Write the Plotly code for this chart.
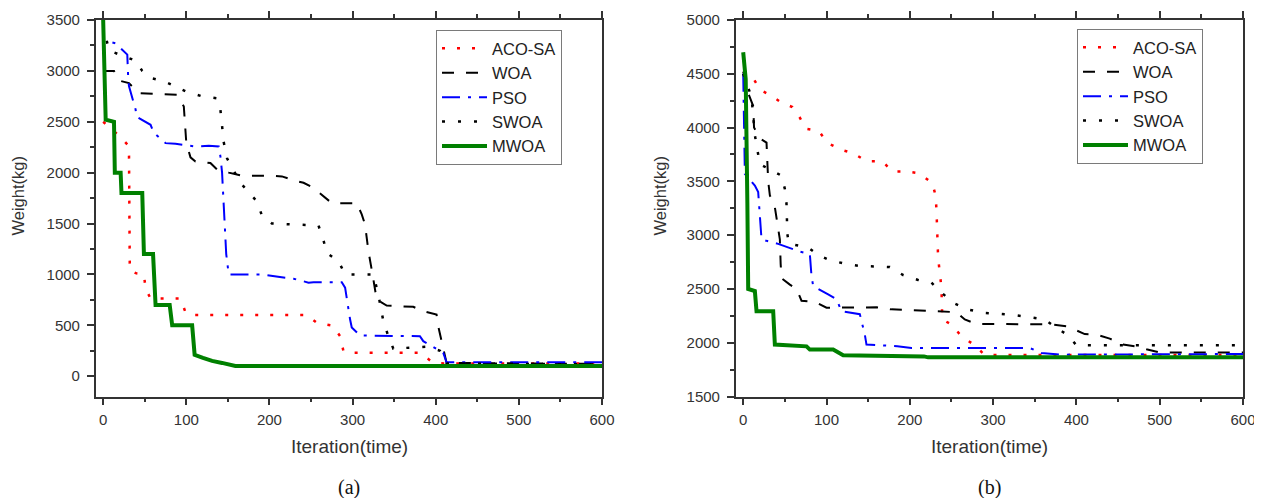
import plotly.graph_objects as go

# ---------------- data: panel (a) ----------------
series_names = ["ACO-SA", "WOA", "PSO", "SWOA", "MWOA"]

a_aco_x = [0, 21, 31, 32, 40, 49, 51, 57, 93, 99, 105, 245, 257, 276, 285, 289, 300, 381, 397, 410, 600]
a_aco_y = [2500, 2350, 2260, 1040, 1010, 1000, 860, 763, 763, 628, 600, 600, 524, 497, 393, 245, 230, 230, 131, 125, 125]

a_woa_x = [0, 13, 19, 31, 43, 89, 97, 100, 105, 111, 129, 137, 151, 167, 197, 215, 227, 241, 253, 269, 275,
           305, 311, 315, 319, 324, 329, 341, 357, 373, 385, 401, 403, 408, 413, 600]
a_woa_y = [3000, 3000, 2905, 2880, 2780, 2765, 2650, 2290, 2150, 2110, 2095, 2030, 2000, 1970, 1970, 1963, 1930,
           1900, 1850, 1740, 1700, 1700, 1590, 1490, 1230, 1000, 752, 693, 687, 681, 638, 605, 490, 300, 131, 120]

a_pso_x = [0, 1, 15, 29, 30, 31, 39, 40, 57, 61, 75, 87, 111, 127, 139, 141, 143, 145, 148, 151, 191, 219, 229,
           247, 253, 287, 291, 297, 299, 309, 381, 385, 409, 413, 600]
a_pso_y = [3470, 3300, 3270, 3160, 2950, 2850, 2620, 2550, 2470, 2390, 2290, 2284, 2257, 2264, 2257, 2160, 2000,
           1705, 1200, 998, 998, 966, 958, 919, 922, 922, 870, 556, 478, 399, 393, 344, 230, 137, 137]

a_swoa_x = [0, 7, 39, 47, 57, 73, 99, 119, 137, 141, 145, 149, 165, 185, 191, 203, 259, 265, 269, 283, 291, 325,
            331, 337, 343, 349, 389, 405, 413, 600]
a_swoa_y = [3450, 3200, 3100, 3000, 2930, 2900, 2800, 2750, 2730, 2620, 2300, 2140, 1900, 1717, 1577, 1500, 1480,
            1335, 1211, 1130, 1000, 1000, 800, 540, 393, 270, 290, 250, 125, 115]

a_mwoa_x = [0, 3, 13, 14, 21, 22, 47, 49, 60, 63, 80, 83, 107, 110, 120, 131, 143, 159, 600]
a_mwoa_y = [3500, 2520, 2500, 2000, 2000, 1800, 1800, 1200, 1200, 700, 700, 500, 500, 210, 180, 150, 130, 100, 100]

# ---------------- data: panel (b) ----------------
b_aco_x = [0, 10, 20, 34, 46, 59, 68, 75, 91, 101, 118, 132, 148, 167, 179, 197, 211, 227, 231, 232, 234, 236,
           238, 239, 250, 262, 278, 290, 600]
b_aco_y = [4520, 4487, 4353, 4294, 4232, 4191, 4092, 3989, 3967, 3858, 3793, 3762, 3687, 3687, 3591, 3591, 3575,
           3485, 3367, 3240, 2790, 2650, 2511, 2216, 2169, 2060, 1976, 1885, 1885]

b_woa_x = [0, 6, 12, 13, 20, 28, 30, 32, 38, 44, 45, 46, 56, 64, 70, 86, 100, 160, 178, 224, 240, 256, 266, 280,
           370, 388, 398, 410, 424, 440, 456, 470, 484, 500, 600]
b_woa_y = [4520, 4320, 4200, 4000, 3900, 3860, 3500, 3370, 3260, 2960, 2730, 2600, 2540, 2500, 2390, 2380, 2325,
           2329, 2310, 2295, 2285, 2284, 2216, 2175, 2170, 2153, 2122, 2080, 2076, 2038, 1983, 1967, 1939, 1910, 1910]

b_pso_x = [0, 1, 2, 14, 18, 20, 22, 28, 36, 42, 68, 80, 82, 84, 102, 112, 118, 131, 140, 146, 148, 166, 185, 202,
           344, 358, 380, 600]
b_pso_y = [4500, 4000, 3570, 3460, 3400, 3180, 2962, 2947, 2931, 2919, 2847, 2825, 2620, 2527, 2449, 2405, 2293,
           2278, 2265, 2076, 1983, 1976, 1967, 1951, 1951, 1904, 1889, 1895]

b_swoa_x = [0, 10, 14, 20, 46, 50, 52, 53, 55, 78, 90, 104, 122, 140, 176, 192, 210, 226, 236, 252, 270, 288, 306,
            326, 344, 362, 376, 390, 400, 600]
b_swoa_y = [4500, 4285, 3930, 3660, 3553, 3430, 3290, 3010, 2920, 2884, 2816, 2767, 2735, 2713, 2704, 2629, 2583,
            2558, 2480, 2371, 2309, 2278, 2269, 2256, 2237, 2216, 2138, 2069, 1976, 1976]

b_mwoa_x = [0, 3, 5, 6, 14, 16, 36, 38, 76, 80, 108, 120, 217, 222, 600]
b_mwoa_y = [4700, 4450, 3300, 2500, 2480, 2293, 2293, 1983, 1966, 1936, 1936, 1883, 1873, 1864, 1864]

x_ticks = [0, 100, 200, 300, 400, 500, 600]
a_y_ticks = [0, 500, 1000, 1500, 2000, 2500, 3000, 3500]
b_y_ticks = [1500, 2000, 2500, 3000, 3500, 4000, 4500, 5000]

x_title = "Iteration(time)"
y_title = "Weight(kg)"
panel_labels = ["(a)", "(b)"]

# ---------------- styles ----------------
styles = {
    "ACO-SA": dict(color="#FF0000", width=2.5, dash="3px,12px"),
    "WOA": dict(color="#000000", width=2, dash="12px,12px"),
    "PSO": dict(color="#0000FF", width=2, dash="18px,8px,3px,8px"),
    "SWOA": dict(color="#000000", width=2.5, dash="3px,13px"),
    "MWOA": dict(color="#008000", width=4),
}

panel_a = [(a_aco_x, a_aco_y), (a_woa_x, a_woa_y), (a_pso_x, a_pso_y), (a_swoa_x, a_swoa_y), (a_mwoa_x, a_mwoa_y)]
panel_b = [(b_aco_x, b_aco_y), (b_woa_x, b_woa_y), (b_pso_x, b_pso_y), (b_swoa_x, b_swoa_y), (b_mwoa_x, b_mwoa_y)]

fig = go.Figure()
for name, (xs, ys) in zip(series_names, panel_a):
    fig.add_trace(go.Scatter(x=xs, y=ys, mode="lines", name=name, line=styles[name],
                             xaxis="x", yaxis="y", legend="legend"))
for name, (xs, ys) in zip(series_names, panel_b):
    fig.add_trace(go.Scatter(x=xs, y=ys, mode="lines", name=name, line=styles[name],
                             xaxis="x2", yaxis="y2", legend="legend2"))

# The page body has an 8px margin, so the figure is drawn 8px smaller and all
# pixel positions below are given in the figure's own frame (reference - 8).
W, H = 1254, 490
FONT = "Arial, Liberation Sans, sans-serif"
AX = "#333333"
tickfont = dict(family=FONT, size=15, color="#333333")

def xax(domain, anchor):
    return dict(domain=domain, anchor=anchor, range=[-9, 600], tickvals=x_ticks,
                ticks="outside", ticklen=7, tickwidth=1.5, tickcolor=AX,
                showline=True, linecolor=AX, linewidth=1.5, mirror="ticks",
                showgrid=False, zeroline=False, tickfont=tickfont, ticklabelstandoff=2,
                automargin=False,
                minor=dict(ticks="outside", ticklen=4, tickwidth=1.5, tickcolor=AX, dtick=50, tick0=0,
                           showgrid=False))

def yax(domain, anchor, rng, tv):
    return dict(domain=domain, anchor=anchor, range=rng, tickvals=tv,
                ticks="outside", ticklen=7, tickwidth=1.5, tickcolor=AX,
                showline=True, linecolor=AX, linewidth=1.5, mirror=True,
                showgrid=False, zeroline=False, tickfont=tickfont, ticklabelstandoff=4,
                automargin=False,
                minor=dict(ticks="outside", ticklen=4, tickwidth=1.5, tickcolor=AX, dtick=250, tick0=0,
                           showgrid=False))

ydom = [1 - 388.5 / H, 1 - 12 / H]
legfont = dict(family=FONT, size=16.5, color="#222222")
fig.update_layout(
    width=W, height=H, margin=dict(l=0, r=0, t=0, b=0, pad=0, autoexpand=False),
    paper_bgcolor="white", plot_bgcolor="white",
    xaxis=xax([87.7 / W, 594 / W], "y"),
    yaxis=yax(ydom, "x", [-200, 3500], a_y_ticks),
    xaxis2=xax([727.7 / W, 1235 / W], "y2"),
    yaxis2=yax(ydom, "x2", [1500, 5000], b_y_ticks),
    legend=dict(x=428 / W, y=1 - 22 / H, xanchor="left", yanchor="top", bgcolor="white",
                bordercolor="#7a7a7a", borderwidth=1, font=legfont,
                tracegroupgap=0, itemwidth=45),
    legend2=dict(x=1069 / W, y=1 - 21 / H, xanchor="left", yanchor="top", bgcolor="white",
                 bordercolor="#7a7a7a", borderwidth=1, font=legfont,
                 tracegroupgap=0, itemwidth=45),
    showlegend=True,
)

ann = []
for cx, lab in zip([341, 981], panel_labels):
    ann.append(dict(x=cx / W, y=1 - 438 / H, xref="paper", yref="paper", text=x_title, showarrow=False,
                    xanchor="center", yanchor="middle", font=dict(family=FONT, size=19, color="#333333")))
    ann.append(dict(x=cx / W, y=1 - 479 / H, xref="paper", yref="paper", text=lab, showarrow=False,
                    xanchor="center", yanchor="middle",
                    font=dict(family="Times New Roman, Liberation Serif, serif", size=20, color="#111111")))
for cx in [9, 651]:
    ann.append(dict(x=cx / W, y=1 - 188.5 / H, xref="paper", yref="paper", text=y_title, showarrow=False,
                    textangle=-90, xanchor="center", yanchor="middle",
                    font=dict(family=FONT, size=16.5, color="#333333")))
fig.update_layout(annotations=ann)

fig.write_html("out.html")
